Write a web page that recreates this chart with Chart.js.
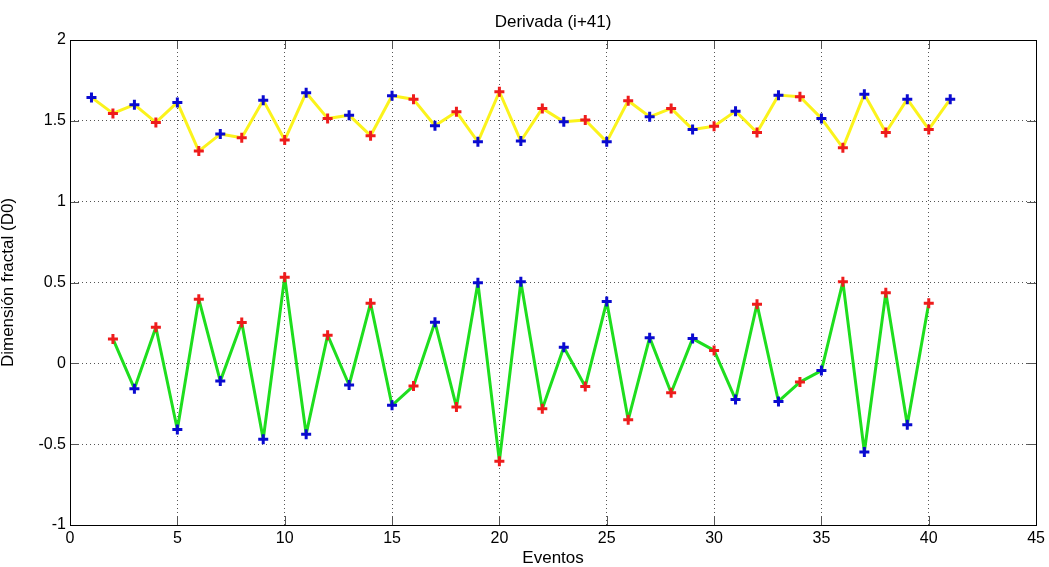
<!DOCTYPE html>
<html>
<head>
<meta charset="utf-8">
<script src="https://cdn.jsdelivr.net/npm/chart.js@4.4.1/dist/chart.umd.min.js"></script>
<style>
  html, body { margin: 0; padding: 0; background: #fff; }
  #grafica { display: block; }
</style>
</head>
<body>
<canvas id="grafica" width="1049" height="567"></canvas>
<script>
// eventos de la curva amarilla (i) y su dimension fractal
const eventosAmarillo = [1, 2, 3, 4, 5, 6, 7, 8, 9, 10, 11, 12, 13, 14, 15, 16, 17, 18, 19, 20,
    21, 22, 23, 24, 25, 26, 27, 28, 29, 30, 31, 32, 33, 34, 35, 36, 37, 38, 39, 40, 41];
const d0Amarillo = [1.645, 1.546, 1.60, 1.49, 1.614, 1.313, 1.418, 1.395, 1.628, 1.381,
    1.674, 1.515, 1.535, 1.408, 1.655, 1.633, 1.47, 1.556, 1.37, 1.68,
    1.375, 1.577, 1.494, 1.505, 1.37, 1.624, 1.525, 1.577, 1.447, 1.467,
    1.56, 1.428, 1.659, 1.649, 1.515, 1.333, 1.665, 1.428, 1.634, 1.447, 1.634];

// derivada (curva verde)
const eventosVerde = [2, 3, 4, 5, 6, 7, 8, 9, 10, 11, 12, 13, 14, 15, 16, 17, 18, 19, 20, 21,
    22, 23, 24, 25, 26, 27, 28, 29, 30, 31, 32, 33, 34, 35, 36, 37, 38, 39, 40];
const d0Verde = [0.151, -0.157, 0.223, -0.409, 0.397, -0.11, 0.252, -0.469, 0.533, -0.438,
    0.174, -0.134, 0.372, -0.26, -0.14, 0.254, -0.27, 0.498, -0.605, 0.504,
    -0.281, 0.099, -0.143, 0.382, -0.349, 0.159, -0.182, 0.153, 0.08, -0.223,
    0.366, -0.236, -0.116, -0.045, 0.504, -0.548, 0.436, -0.38, 0.372];

const ticksX = [0, 5, 10, 15, 20, 25, 30, 35, 40, 45];
const ticksY = [-1, -0.5, 0, 0.5, 1, 1.5, 2];

const AZUL = '#0a0ad0';
const ROJO = '#ee1c1c';

const colorMarcador = (eventos) => eventos.map(e => e % 2 === 0 ? ROJO : AZUL);
const puntos = (xs, ys) => xs.map((x, i) => ({ x: x, y: ys[i] }));

// marco negro y marcas de ticks hacia adentro (estilo matlab)
const marco = {
    id: 'marco',
    afterDraw(chart) {
        const { ctx, chartArea: a, scales } = chart;
        ctx.save();
        ctx.strokeStyle = '#555';
        ctx.lineWidth = 1;
        const L = 9;
        ticksX.forEach(v => {
            const px = Math.round(scales.x.getPixelForValue(v)) + 0.5;
            ctx.beginPath();
            ctx.moveTo(px, a.bottom); ctx.lineTo(px, a.bottom - L);
            ctx.moveTo(px, a.top); ctx.lineTo(px, a.top + L);
            ctx.stroke();
        });
        ticksY.forEach(v => {
            const py = Math.round(scales.y.getPixelForValue(v)) + 0.5;
            ctx.beginPath();
            ctx.moveTo(a.left, py); ctx.lineTo(a.left + L, py);
            ctx.moveTo(a.right, py); ctx.lineTo(a.right - L, py);
            ctx.stroke();
        });
        ctx.strokeStyle = '#000';
        ctx.strokeRect(Math.round(a.left) + 0.5, Math.round(a.top) + 0.5,
            Math.round(a.right - a.left), Math.round(a.bottom - a.top));
        ctx.restore();
    }
};

const fuente = { family: 'Arial, "Liberation Sans", sans-serif' };

new Chart(document.getElementById('grafica'), {
    type: 'line',
    data: {
        datasets: [{
            label: 'D0',
            data: puntos(eventosAmarillo, d0Amarillo),
            borderColor: '#fbf31c',
            borderWidth: 3,
            borderJoinStyle: 'round',
            pointStyle: 'cross',
            pointRadius: 5,
            pointBorderWidth: 3,
            pointBorderColor: colorMarcador(eventosAmarillo),
            pointBackgroundColor: colorMarcador(eventosAmarillo),
            tension: 0
        }, {
            label: 'Derivada',
            data: puntos(eventosVerde, d0Verde),
            borderColor: '#1ede1e',
            borderWidth: 3,
            borderJoinStyle: 'round',
            pointStyle: 'cross',
            pointRadius: 5,
            pointBorderWidth: 3,
            pointBorderColor: colorMarcador(eventosVerde),
            pointBackgroundColor: colorMarcador(eventosVerde),
            tension: 0
        }]
    },
    options: {
        responsive: false,
        animation: false,
        layout: { padding: { left: 0, right: 12, top: 0, bottom: 0 } },
        plugins: {
            legend: { display: false },
            tooltip: { enabled: false },
            title: {
                display: true,
                text: 'Derivada (i+41)',
                fullSize: false,
                color: '#000',
                font: { ...fuente, size: 17, weight: 'normal', lineHeight: 1.2 },
                padding: { top: 12, bottom: 7.6 }
            }
        },
        scales: {
            x: {
                type: 'linear',
                min: 0,
                max: 45,
                afterBuildTicks: (s) => { s.ticks = ticksX.map(v => ({ value: v })); },
                afterFit: (s) => { s.height = 42; },
                ticks: {
                    color: '#000', font: { ...fuente, size: 16 }, padding: 4, maxRotation: 0,
                    callback: (v) => String(v)
                },
                grid: { color: '#555', lineWidth: 1, drawTicks: false },
                border: { display: false, dash: [1, 3] },
                title: {
                    display: true, text: 'Eventos', color: '#000',
                    font: { ...fuente, size: 17, lineHeight: 1 }, padding: 0
                }
            },
            y: {
                min: -1,
                max: 2,
                afterBuildTicks: (s) => { s.ticks = ticksY.map(v => ({ value: v })); },
                afterFit: (s) => { s.width = 70; },
                ticks: {
                    color: '#000', font: { ...fuente, size: 16 }, padding: 4,
                    callback: (v) => String(v)
                },
                grid: { color: '#555', lineWidth: 1, drawTicks: false },
                border: { display: false, dash: [1, 3] },
                title: {
                    display: true, text: 'Dimensión fractal (D0)', color: '#000',
                    font: { ...fuente, size: 17, lineHeight: 1 }, padding: 0
                }
            }
        }
    },
    plugins: [marco]
});
</script>
</body>
</html>
